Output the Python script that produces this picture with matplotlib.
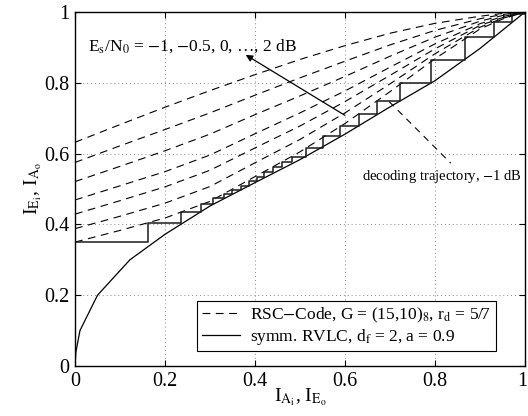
import matplotlib
matplotlib.use("Agg")
import matplotlib.pyplot as plt
import matplotlib.transforms as mtransforms

plt.rcParams['font.family'] = ['Liberation Serif', 'DejaVu Serif']
plt.rcParams['mathtext.fontset'] = 'stix'

# EXIT curves of RSC code for Es/N0 = -1, -0.5, 0, ..., 2 dB
x_rsc = [0, 0.1, 0.2, 0.3, 0.4, 0.5, 0.6, 0.7, 0.8, 0.9, 0.95, 1.0]
rsc_m10 = [0.350, 0.383, 0.418, 0.465, 0.535, 0.605, 0.685, 0.775, 0.868, 0.952, 0.980, 1.0]
rsc_m05 = [0.388, 0.423, 0.460, 0.507, 0.574, 0.640, 0.715, 0.797, 0.882, 0.957, 0.982, 1.0]
rsc_p00 = [0.429, 0.467, 0.506, 0.553, 0.616, 0.678, 0.747, 0.821, 0.896, 0.962, 0.984, 1.0]
rsc_p05 = [0.469, 0.509, 0.549, 0.596, 0.656, 0.715, 0.777, 0.844, 0.910, 0.967, 0.987, 1.0]
rsc_p10 = [0.521, 0.564, 0.608, 0.655, 0.710, 0.763, 0.818, 0.875, 0.929, 0.974, 0.990, 1.0]
rsc_p15 = [0.575, 0.622, 0.668, 0.715, 0.765, 0.814, 0.861, 0.907, 0.948, 0.981, 0.993, 1.0]
rsc_p20 = [0.632, 0.682, 0.731, 0.778, 0.823, 0.866, 0.905, 0.940, 0.968, 0.988, 0.996, 1.0]
rsc_curves = [rsc_m10, rsc_m05, rsc_p00, rsc_p05, rsc_p10, rsc_p15, rsc_p20]

# symmetric RVLC curve (axes swapped)
x_rvlc = [0, 0.002, 0.011, 0.05, 0.122, 0.2, 0.3, 0.4, 0.5, 0.6, 0.7, 0.8, 0.9, 1.0]
y_rvlc = [0, 0.04, 0.10, 0.20, 0.30, 0.372, 0.452, 0.518, 0.583, 0.655, 0.732, 0.806, 0.897, 1.0]

# decoding trajectory at -1 dB (steps)
x_traj = [0, 0.163, 0.236, 0.279, 0.307, 0.330, 0.348, 0.369, 0.387, 0.404, 0.421,
          0.441, 0.459, 0.483, 0.513, 0.550, 0.589, 0.630, 0.672, 0.722, 0.791,
          0.867, 0.931, 0.970, 1.0]
y_traj = [0.349, 0.403, 0.436, 0.457, 0.474, 0.486, 0.497, 0.508, 0.523, 0.535, 0.547,
          0.561, 0.575, 0.591, 0.617, 0.650, 0.678, 0.711, 0.750, 0.799, 0.864,
          0.929, 0.972, 0.994, 1.0]

ticks = [0, 0.2, 0.4, 0.6, 0.8, 1]
tick_labels = ['0', '0.2', '0.4', '0.6', '0.8', '1']

fig = plt.figure(figsize=(5.28, 4.16), dpi=100)
ax = fig.add_axes([75/528, 50/416, 450/528, 354/416])

for i, c in enumerate(rsc_curves):
    ax.plot(x_rsc, c, color='black', lw=0.8, dashes=(7, 5),
            label=r'RSC$-$Code, G = (15,10)$_8$, r$_\mathrm{d}$ = 5/7' if i == 0 else None)
ax.plot(x_rvlc, y_rvlc, color='black', lw=0.9,
        label=r'symm. RVLC, d$_\mathrm{f}$ = 2, a = 0.9')
ax.plot(x_traj, y_traj, color='#1a1a1a', lw=1.1, drawstyle='steps-post')

ax.set_xlim(0, 1)
ax.set_ylim(0, 1)
ax.set_xticks(ticks)
ax.set_xticklabels(tick_labels)
ax.set_yticks(ticks)
ax.set_yticklabels(tick_labels)
ax.tick_params(direction='in', top=True, right=True, length=4, labelsize=14.5, width=0.8)
ax.tick_params(axis='x', pad=4)
ax.tick_params(axis='y', pad=4)
ax.grid(True, linestyle=(0, (1, 3)), color='#888888', lw=0.7)
for s in ax.spines.values():
    s.set_linewidth(1.0)

# keep the last x tick label inside the canvas
last = ax.get_xticklabels()[-1]
last.set_transform(last.get_transform() + mtransforms.ScaledTranslation(-3/100, 0, fig.dpi_scale_trans))

ax.set_xlabel(r'I$_{\mathrm{A}_\mathrm{i}}$, I$_{\mathrm{E}_\mathrm{o}}$', fontsize=14, labelpad=-3)
ax.set_ylabel(r'I$_{\mathrm{E}_\mathrm{i}}$, I$_{\mathrm{A}_\mathrm{o}}$', fontsize=14, labelpad=0)

ax.text(0.03, 0.905, r'E$_\mathrm{s}$/N$_0$ = $-$1, $-$0.5, 0, …, 2 dB', fontsize=12.5,
        va='center', ha='left')
ax.annotate('', xy=(0.374, 0.883), xytext=(0.605, 0.704),
            arrowprops=dict(arrowstyle='-|>', color='black', lw=0.9, mutation_scale=10))
ax.plot([0.698, 0.835], [0.747, 0.573], color='black', lw=0.8, dashes=(6, 5))
ax.text(0.638, 0.535, r'decoding trajectory, $-$1 dB', fontsize=10.5, va='center', ha='left')

leg = ax.legend(loc='lower right', bbox_to_anchor=(0.935, 0.042), fontsize=12.5,
                frameon=True, fancybox=False, edgecolor='black', framealpha=1,
                handlelength=2.2, borderpad=0.25, labelspacing=0.1, handletextpad=0.6,
                borderaxespad=0)
leg.get_frame().set_linewidth(0.8)

fig.savefig('out.png', dpi=100)
